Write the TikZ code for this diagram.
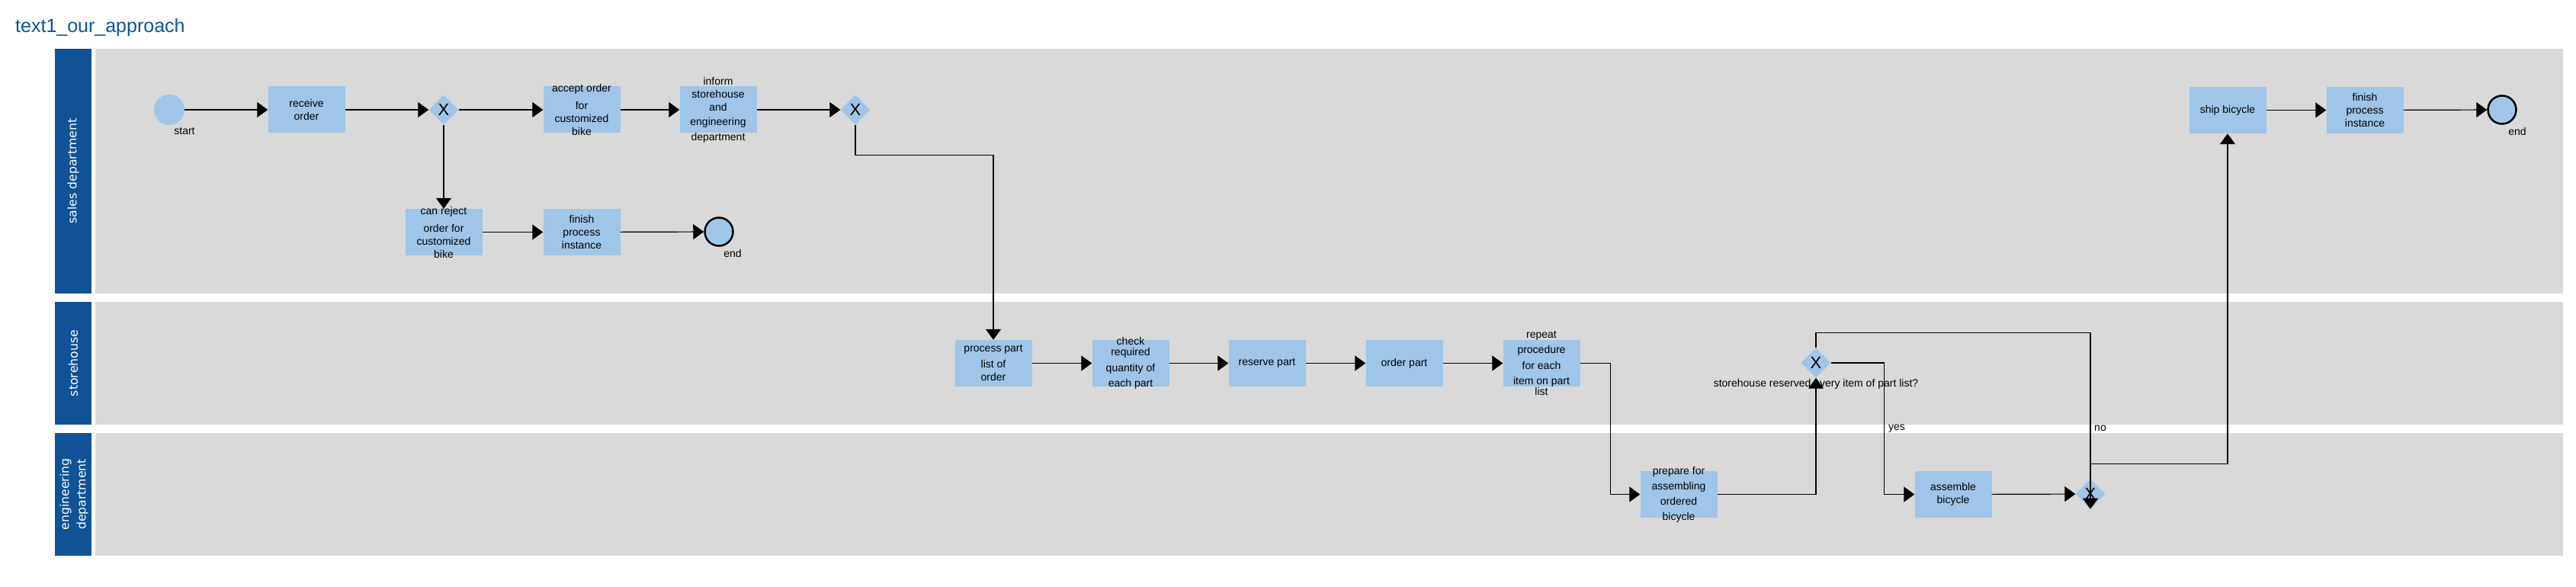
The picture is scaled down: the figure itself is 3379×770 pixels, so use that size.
\documentclass[tikz,border=0pt]{standalone}
\usepackage{fontspec}
\setmainfont{Liberation Sans}
\newfontfamily\lanefont{DejaVu Sans}
\usetikzlibrary{arrows.meta,shapes.geometric}
\definecolor{hdr}{HTML}{0F5396}
\definecolor{lanebg}{HTML}{D9D9D9}
\definecolor{taskbg}{HTML}{9FC5E8}
\begin{document}
\begin{tikzpicture}[x=1pt,y=-1pt,
  lanehdr/.style={fill=hdr},
  lanebody/.style={fill=lanebg},
  lanetxt/.style={rotate=90, text=white, align=center, inner sep=0pt, font=\lanefont\fontsize{15.7}{22}\selectfont},
  task/.style={rectangle, fill=taskbg, minimum width=101pt, minimum height=61pt, inner sep=0pt},
  txt/.style={align=center, inner sep=0pt, font=\fontsize{14}{17}\selectfont},
  gw/.style={diamond, fill=taskbg, minimum width=39pt, minimum height=39pt, inner sep=0pt, font=\fontsize{22}{22}\selectfont},
  startev/.style={circle, fill=taskbg, minimum size=40pt, inner sep=0pt},
  endev/.style={circle, fill=taskbg, draw=black, line width=2.5pt, minimum size=37pt, inner sep=0pt},
  flow/.style={line width=1.2pt, -{Triangle[length=14pt,width=20pt]}},
  lbl/.style={font=\fontsize{14}{17}\selectfont, inner sep=0pt},
]
\path[use as bounding box, fill=white] (0,0) rectangle (3379,770);

\node[anchor=base west, text=hdr, inner sep=0pt, font=\fontsize{25}{30}\selectfont] (title) at (20,43) {text1\_our\_approach};

% lanes
\fill[lanehdr] (72,64) rectangle (120,385);
\fill[lanebody] (125,64) rectangle (3362,385);
\fill[lanehdr] (72,396) rectangle (120,557);
\fill[lanebody] (125,396) rectangle (3362,557);
\fill[lanehdr] (72,568) rectangle (120,729);
\fill[lanebody] (125,568) rectangle (3362,729);
\node[lanetxt] (lsales) at (96,224.5) {sales department};
\node[lanetxt] (lstore) at (96,476.5) {storehouse};
\node[lanetxt] (leng) at (97,648.5) {engineering\\department};

% sales department
\node[startev] (start) at (222,144) {};
\node[lbl] (startl) at (242,172) {start};
\node[task, label={[txt]center:receive\\order}] (recv) at (402,144) {};
\node[gw] (gw1) at (582,144) {X};
\node[task, label={[txt]center:accept order\\[6pt]for\\customized\\bike}] (accept) at (763,144) {};
\node[task, label={[txt]center:inform\\storehouse\\and\\[2pt]engineering\\[3pt]department}] (inform) at (942,144) {};
\node[gw] (gw2) at (1122,144) {X};
\node[task, label={[txt]center:can reject\\[6pt]order for\\customized\\bike}] (reject) at (582,304.5) {};
\node[task, label={[txt]center:finish\\process\\instance}] (fin1) at (763,304.5) {};
\node[endev] (end1) at (943,304) {};
\node[lbl] (end1l) at (961,332) {end};
\node[task, label={[txt]center:ship bicycle}] (ship) at (2922,144.5) {};
\node[task, label={[txt]center:finish\\process\\instance}] (fin2) at (3102,144.5) {};
\node[endev] (end2) at (3282,144) {};
\node[lbl] (end2l) at (3302,172) {end};

% storehouse
\node[task, label={[txt]center:process part\\[4pt]list of\\order}] (proc) at (1303,476.5) {};
\node[task, label={[txt]center:check\\[-3pt]required\\[4pt]quantity of\\[3pt]each part}] (check) at (1483,476.5) {};
\node[task, label={[txt]center:reserve part}] (reserve) at (1662,476.5) {};
\node[task, label={[txt]center:order part}] (order) at (1842,476.5) {};
\node[task, label={[txt]center:repeat\\[3pt]procedure\\[4pt]for each\\[3pt]item on part\\[-3pt]list}] (repeat) at (2022,476.5) {};
\node[gw] (gw3) at (2382,476) {X};
\node[lbl] (gw3l) at (2382,504) {storehouse reserved every item of part list?};

% engineering department
\node[task, label={[txt]center:prepare for\\[3pt]assembling\\[3pt]ordered\\[3pt]bicycle}] (prep) at (2202,648.5) {};
\node[task, label={[txt]center:assemble\\bicycle}] (assemble) at (2562,648.5) {};
\node[gw] (gw4) at (2742,648) {X};

% flows
\draw[flow] (start) -- (recv);
\draw[flow] (recv) -- (gw1);
\draw[flow] (gw1) -- (accept);
\draw[flow] (gw1) -- (reject);
\draw[flow] (accept) -- (inform);
\draw[flow] (inform) -- (gw2);
\draw[flow] (reject) -- (fin1);
\draw[flow] (fin1) -- (end1);
\draw[flow] (gw2.south) -- ++(0,40) -| (proc.north);
\draw[flow] (proc) -- (check);
\draw[flow] (check) -- (reserve);
\draw[flow] (reserve) -- (order);
\draw[flow] (order) -- (repeat);
\draw[flow] (repeat.east) -- ++(40,0) |- (prep.west);
\draw[flow] (prep.east) -| (gw3.south);
\draw[flow] (gw3.east) -- ++(70,0) |- (assemble.west);
\node[lbl] (yesl) at (2488,562) {yes};
\draw[flow] (assemble) -- (gw4);
\draw[flow] (gw3.north) -- ++(0,-20) -| (gw4.south);
\node[lbl] (nol) at (2755,562) {no};
\draw[flow] (gw4.north) -- ++(0,-20) -| (ship.south);
\draw[flow] (ship) -- (fin2);
\draw[flow] (fin2) -- (end2);
\end{tikzpicture}
\end{document}
